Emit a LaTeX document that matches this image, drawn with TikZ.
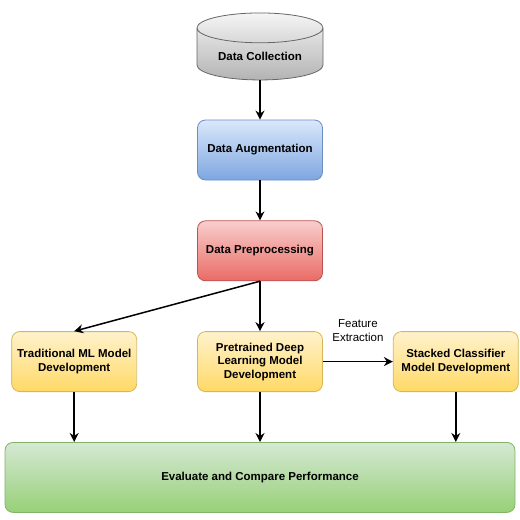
\documentclass[tikz,border=0pt]{standalone}
\usepackage{fontspec}
\setmainfont{Liberation Sans}
\usetikzlibrary{positioning,arrows.meta,shapes.geometric}

\definecolor{grayLight}{HTML}{F5F5F5}
\definecolor{grayDark}{HTML}{B3B3B3}
\definecolor{grayLine}{HTML}{666666}
\definecolor{blueLight}{HTML}{DAE8FC}
\definecolor{blueDark}{HTML}{7EA6E0}
\definecolor{blueLine}{HTML}{6C8EBF}
\definecolor{redLight}{HTML}{F8CECC}
\definecolor{redDark}{HTML}{EA6B66}
\definecolor{redLine}{HTML}{B85450}
\definecolor{yellowLight}{HTML}{FFF2CC}
\definecolor{yellowDark}{HTML}{FFD966}
\definecolor{yellowLine}{HTML}{D6B656}
\definecolor{greenLight}{HTML}{D5E8D4}
\definecolor{greenDark}{HTML}{97D077}
\definecolor{greenLine}{HTML}{82B366}

\begin{document}
\begin{tikzpicture}[x=1pt,y=-1pt,node distance=40pt,
  txt/.style={font=\bfseries\fontsize{11.5}{13.5}\selectfont},
  box/.style={txt,rounded corners=8pt,minimum width=125pt,minimum height=60pt,
    align=center,line width=0.8pt},
  dbase/.style={txt,cylinder,shape border rotate=90,aspect=0.33,
    minimum width=126pt,minimum height=67pt,line width=0.8pt,
    draw=grayLine,top color=grayLight,bottom color=grayDark},
  bluebox/.style={box,draw=blueLine,top color=blueLight,bottom color=blueDark},
  redbox/.style={box,draw=redLine,top color=redLight,bottom color=redDark},
  yellowbox/.style={box,draw=yellowLine,top color=yellowLight,bottom color=yellowDark},
  greenbox/.style={box,draw=greenLine,top color=greenLight,bottom color=greenDark},
  flow/.style={-{Stealth[length=9pt,width=9pt]},line width=1.5pt}]
  \useasboundingbox (0,0) rectangle (520,520);

  \node[dbase]     (Collect) at (260,56.5)            {Data Collection};
  \node[bluebox]   (Augment) at (260,150)             {Data Augmentation};
  \node[redbox]    (Prep)    [below=of Augment]       {Data Preprocessing};
  \node[yellowbox] (Deep)    [below=50pt of Prep]     {Pretrained Deep\\Learning Model\\Development};
  \node[yellowbox] (Trad)    [left=60pt of Deep]      {Traditional ML Model\\Development};
  \node[yellowbox] (Stack)   [right=70pt of Deep]     {Stacked Classifier\\Model Development};
  \node[greenbox,minimum width=510pt,minimum height=70pt]
                   (Eval)    [below=50pt of Deep]     {Evaluate and Compare Performance};

  \path[flow]
    (Collect) edge (Augment)
    (Augment) edge (Prep)
    (Prep.south) edge (Trad.north)
    (Prep)    edge (Deep)
    (Deep)    edge node[above=16pt,align=center,font=\fontsize{11.5}{13.5}\selectfont]
                   {Feature\\Extraction} (Stack)
    (Trad)    edge (Trad |- Eval.north)
    (Deep)    edge (Eval)
    (Stack)   edge (Stack |- Eval.north);
\end{tikzpicture}
\end{document}
